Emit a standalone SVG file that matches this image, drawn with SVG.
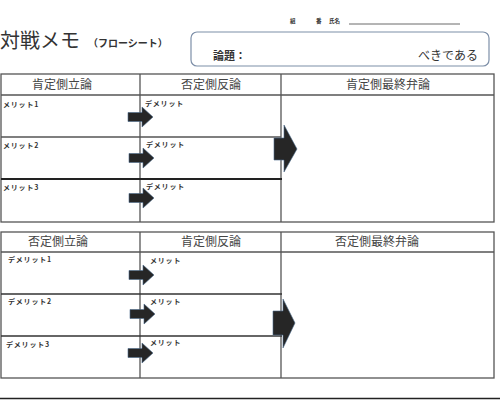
<svg xmlns="http://www.w3.org/2000/svg" width="500" height="400" viewBox="0 0 500 400">
<defs>
<style>
.t{font-family:"Noto Sans CJK JP","Noto Sans",sans-serif;fill:#333}
.h{font-size:12px;fill:#444;text-anchor:middle}
.s{font-size:7px;font-weight:bold;fill:#333;letter-spacing:0.8px}
.ln{stroke:#555;stroke-width:1.3;fill:none}
.arr{fill:#262626;stroke:#4a6a8a;stroke-width:0.6}
</style>
<path id="sa" d="M0,-4.5 H14 V-10 L25,0 L14,10 V4.5 H0 Z"/>
</defs>
<rect width="500" height="400" fill="#fff"/>
<g id="title">
<text class="t" x="0" y="48" font-size="20">対戦メモ</text>
<text class="t" x="88" y="47" font-size="10" font-weight="bold" fill="#444">（フローシート）</text>
</g>
<g id="name">
<text class="t" x="290" y="23" font-size="5.5" font-weight="bold">組</text>
<text class="t" x="316" y="23" font-size="5.5" font-weight="bold">番</text>
<text class="t" x="329" y="23" font-size="5.5" font-weight="bold">氏名</text>
<line x1="349" y1="24" x2="460" y2="24" stroke="#444" stroke-width="0.8"/>
</g>
<g id="topic">
<rect x="191" y="32" width="298" height="34" rx="6" fill="#fff" stroke="#7d8fa8" stroke-width="1.2"/>
<text class="t" x="213" y="60" font-size="11" font-weight="bold">論題：</text>
<text class="t" x="418" y="60" font-size="12">べきである</text>
</g>
<g id="table1">
<rect class="ln" x="1" y="74" width="493" height="148"/>
<line class="ln" x1="1" y1="95" x2="494" y2="95"/>
<line class="ln" x1="140" y1="74" x2="140" y2="222"/>
<line class="ln" x1="281" y1="74" x2="281" y2="222"/>
<line class="ln" x1="1" y1="137" x2="281" y2="137"/>
<line x1="1" y1="179" x2="282" y2="179" stroke="#222" stroke-width="2"/>
<text class="t h" x="62" y="89">肯定側立論</text>
<text class="t h" x="211" y="89">否定側反論</text>
<text class="t h" x="388" y="89">肯定側最終弁論</text>
<text class="t s" x="3" y="107">メリット1</text>
<text class="t s" x="3" y="148">メリット2</text>
<text class="t s" x="3" y="190">メリット3</text>
<text class="t s" x="145" y="106">デメリット</text>
<text class="t s" x="146" y="147">デメリット</text>
<text class="t s" x="146" y="189">デメリット</text>
</g>
<g id="table2">
<rect class="ln" x="1" y="232" width="493" height="146"/>
<line class="ln" x1="1" y1="252" x2="494" y2="252"/>
<line class="ln" x1="140" y1="232" x2="140" y2="378"/>
<line class="ln" x1="281" y1="232" x2="281" y2="378"/>
<line x1="1" y1="294" x2="282" y2="294" stroke="#333" stroke-width="1.3"/>
<line x1="1" y1="336" x2="282" y2="336" stroke="#333" stroke-width="1.3"/>
<text class="t h" x="58" y="246">否定側立論</text>
<text class="t h" x="211" y="246">肯定側反論</text>
<text class="t h" x="377" y="246">否定側最終弁論</text>
<text class="t s" x="8" y="262">デメリット1</text>
<text class="t s" x="8" y="304">デメリット2</text>
<text class="t s" x="6" y="347">デメリット3</text>
<text class="t s" x="150" y="263">メリット</text>
<text class="t s" x="150" y="304">メリット</text>
<text class="t s" x="150" y="345">メリット</text>
</g>
<line x1="0" y1="398.5" x2="500" y2="398.5" stroke="#222" stroke-width="1.3"/>
<g id="connectors">
<use href="#sa" class="arr" transform="translate(128,117)"/>
<use href="#sa" class="arr" transform="translate(129,158)"/>
<use href="#sa" class="arr" transform="translate(129,198)"/>
<use href="#sa" class="arr" transform="translate(129,275)"/>
<use href="#sa" class="arr" transform="translate(130,314)"/>
<use href="#sa" class="arr" transform="translate(128,353)"/>
<path class="arr" d="M274,138 H284 V125 L297,149 L284,172 V160 H274 Z"/>
<path class="arr" d="M273,311 H283 V299 L295,323 L283,348 V335 H273 Z"/>
</g>
</svg>
